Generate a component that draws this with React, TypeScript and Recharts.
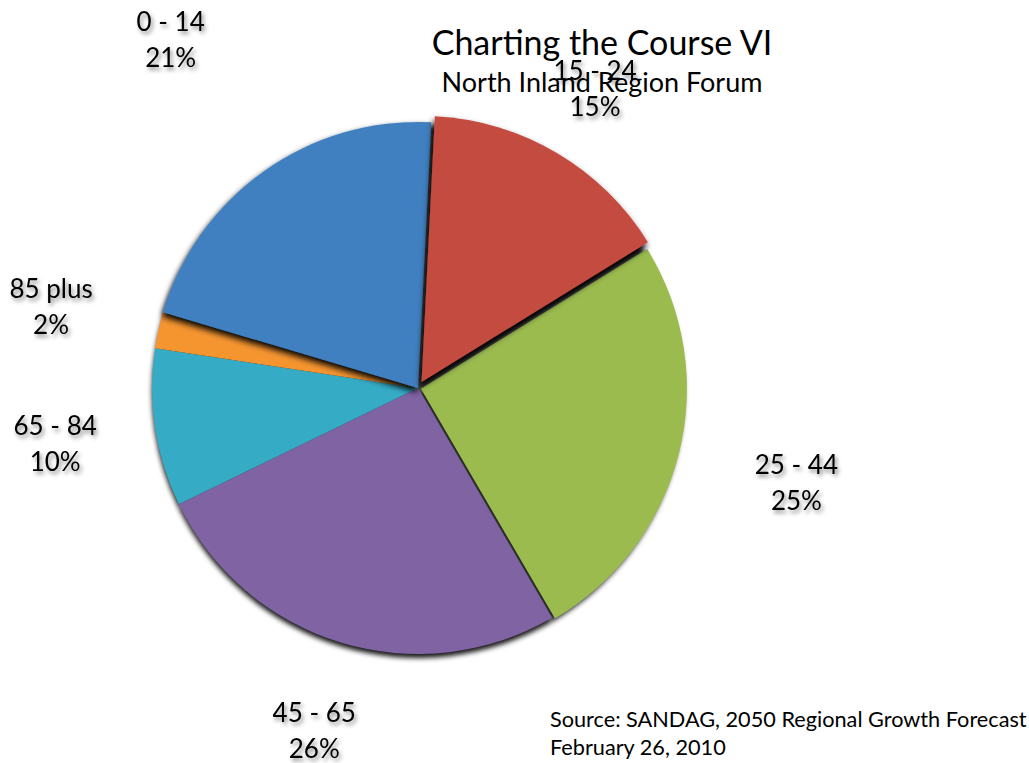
import { PieChart, Pie, Cell } from "recharts";

// drawing order starts at the 15-24 / 25-44 boundary so 15-24 lands on top
const AGE_GROUPS = ["25 - 44", "45 - 65", "65 - 84", "85 plus", "0 - 14", "15 - 24"];
const SHARES = [25.4, 26.2, 9.6, 2.2, 21.2, 15.4];
const COLORS = ["#9BBB4F", "#7F63A3", "#35ABC6", "#F59530", "#3F80C0", "#C44B41"];

// per-slice layout tweaks
const EXPLODE = [3, 0, 0, 0, 0, 7];
const SHADOWED = [false, false, false, false, true, true];
const LABEL_DIST = [390, 357, 367, 376, 428, 348];

const TITLE = "Charting the Course VI";
const SUBTITLE = "North Inland Region Forum";
const SOURCE_LINES = ["Source: SANDAG, 2050 Regional Growth Forecast", "February 26, 2010"];

const FONT = "Lato, 'Open Sans', sans-serif";
const RAD = Math.PI / 180;
const START = 90 - 58.3;

const data = AGE_GROUPS.map((name, i) => ({ name, value: SHARES[i] }));

function sliceOffset(index: number) {
  // mid angle of the slice, recharts style (degrees, counter-clockwise from 3 o'clock)
  const total = SHARES.reduce((a, b) => a + b, 0);
  const before = SHARES.slice(0, index).reduce((a, b) => a + b, 0);
  const mid = START - ((before + SHARES[index] / 2) / total) * 360;
  const d = EXPLODE[index];
  return { dx: d * Math.cos(mid * RAD), dy: -d * Math.sin(mid * RAD) };
}

function renderLabel(props: any) {
  const { cx, cy, midAngle, percent, index, name } = props;
  const r = LABEL_DIST[index];
  const x = cx + r * Math.cos(-midAngle * RAD);
  const y = cy + r * Math.sin(-midAngle * RAD);
  return (
    <text
      x={x}
      y={y}
      textAnchor="middle"
      fontFamily={FONT}
      fontSize={26}
      fill="#000"
      filter="url(#textShadow)"
    >
      <tspan x={x} y={y - 18} dominantBaseline="central">{name}</tspan>
      <tspan x={x} y={y + 18} dominantBaseline="central">{`${Math.round(percent * 100)}%`}</tspan>
    </text>
  );
}

export default function App() {
  return (
    <div style={{ position: "absolute", left: 0, top: 0, width: 1029, height: 763, background: "#fff" }}>
      <svg width={0} height={0} style={{ position: "absolute" }}>
        <defs>
          <filter id="textShadow" x="-20%" y="-20%" width="140%" height="160%">
            <feDropShadow dx={2} dy={3} stdDeviation={2} floodColor="#000" floodOpacity={0.45} />
          </filter>
          <filter id="sliceShadow" x="-20%" y="-20%" width="140%" height="140%">
            <feDropShadow dx={-1} dy={4} stdDeviation={3} floodColor="#000" floodOpacity={1} />
          </filter>
          <filter id="pieShadow" x="-20%" y="-20%" width="140%" height="140%">
            <feGaussianBlur stdDeviation={2.5} />
          </filter>
        </defs>
      </svg>
      <PieChart width={1029} height={763} margin={{ top: 0, right: 0, bottom: 0, left: 0 }}>
        {/* soft shadow under the whole pie */}
        <Pie
          data={data}
          dataKey="value"
          cx={418}
          cy={392}
          outerRadius={266}
          startAngle={START}
          endAngle={START - 360}
          stroke="none"
          isAnimationActive={false}
        >
          {data.map((d) => (
            <Cell key={`s-${d.name}`} fill="#000" fillOpacity={0.9} filter="url(#pieShadow)" />
          ))}
        </Pie>
        <Pie
          data={data}
          dataKey="value"
          nameKey="name"
          cx={418}
          cy={388}
          outerRadius={266}
          startAngle={START}
          endAngle={START - 360}
          stroke="none"
          label={renderLabel}
          labelLine={false}
          isAnimationActive={false}
        >
          {data.map((d, i) => {
            const { dx, dy } = sliceOffset(i);
            return (
              <Cell
                key={d.name}
                fill={COLORS[i]}
                transform={`translate(${dx.toFixed(2)},${dy.toFixed(2)})`}
                filter={SHADOWED[i] ? "url(#sliceShadow)" : undefined}
              />
            );
          })}
        </Pie>
        <text x={602} y={55} textAnchor="middle" fontFamily={FONT} fontSize={34} fill="#000">
          {TITLE}
        </text>
        <text x={602} y={92} textAnchor="middle" fontFamily={FONT} fontSize={27} fill="#000">
          {SUBTITLE}
        </text>
        {SOURCE_LINES.map((line, i) => (
          <text key={line} x={550} y={727 + i * 28} fontFamily={FONT} fontSize={21.7} fill="#000">
            {line}
          </text>
        ))}
      </PieChart>
    </div>
  );
}
